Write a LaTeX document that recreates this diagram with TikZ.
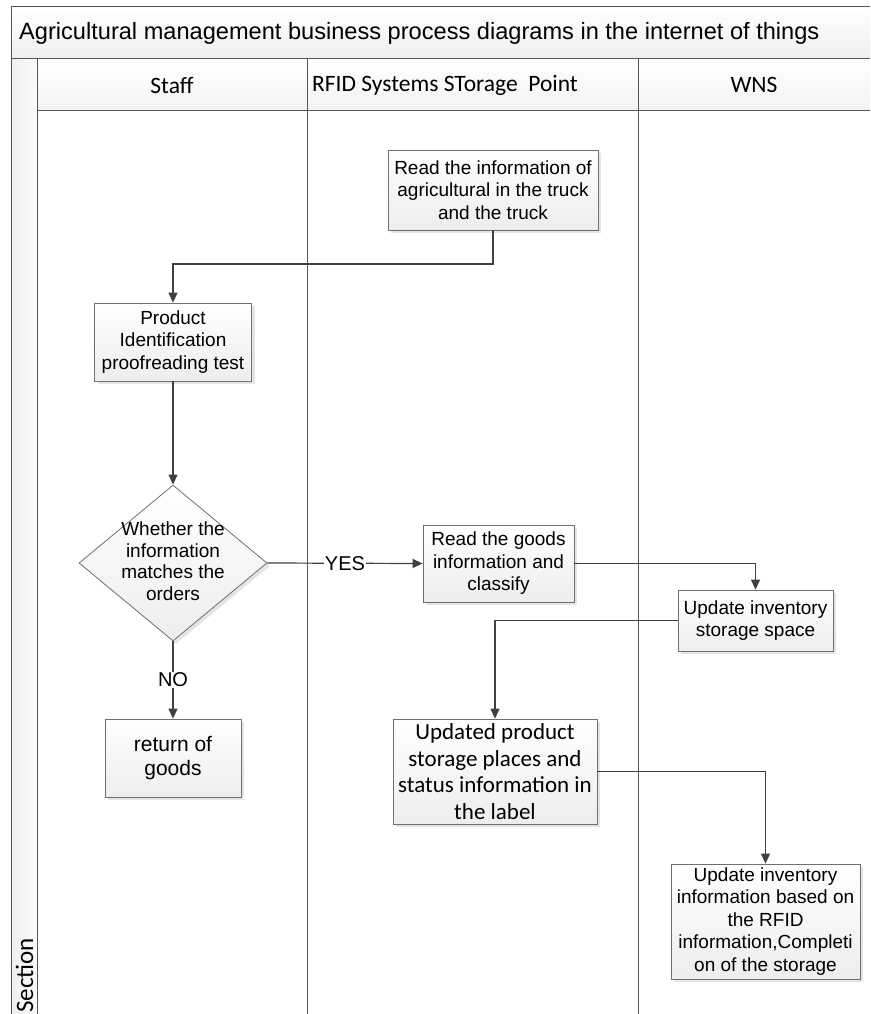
\documentclass[tikz,border=0pt]{standalone}
\usepackage{fontspec}
\setmainfont{Liberation Sans}
\newfontfamily\carlito{Carlito}
\usetikzlibrary{arrows.meta,shapes.geometric,shadows}
\definecolor{edge}{HTML}{404040}
\definecolor{boxline}{HTML}{707070}
\definecolor{laneline}{HTML}{555555}
\begin{document}
\begin{tikzpicture}[x=1pt,y=-1pt,
  proc/.style={draw=boxline, line width=0.8pt, top color=white, bottom color=gray!14,
    drop shadow={shadow xshift=3pt, shadow yshift=-3pt, fill=gray!30, opacity=0.7},
    align=center, font=\fontsize{19}{22.5}\selectfont, inner sep=0pt},
  dec/.style={shape=diamond, draw=boxline, line width=0.8pt, top color=white, bottom color=gray!14,
    drop shadow={shadow xshift=3pt, shadow yshift=-3pt, fill=gray!30, opacity=0.7},
    inner sep=0pt, minimum width=188pt, minimum height=156pt},
  conn/.style={draw=edge, line width=1.2pt, -{Triangle[length=10pt,width=9pt]}},
  lane/.style={draw=laneline, line width=1pt},
  lbl/.style={fill=white, inner sep=1pt, font=\fontsize{20}{22}\selectfont},
  hdr/.style={font=\carlito\fontsize{23.5}{26}\selectfont}]
\useasboundingbox (0,0) rectangle (870,1014);
% bands
\shade[top color=white, bottom color=gray!13] (11,7) rectangle (870,59);
\shade[top color=white, bottom color=gray!10] (37,59) rectangle (870,111);
\shade[left color=gray!12, right color=gray!4] (11,59) rectangle (37,1014);
% lane lines
\draw[lane] (870,7) -- (11,7) -- (11,1014);
\draw[lane] (11,59) -- (870,59);
\draw[lane] (37,59) -- (37,1014);
\draw[lane] (37,111) -- (870,111);
\draw[lane] (307,59) -- (307,1014);
\draw[lane] (638,59) -- (638,1014);
% titles
\node[anchor=base west, inner sep=0pt, font=\fontsize{23.6}{26}\selectfont] (title) at (19,40)
  {Agricultural management business process diagrams in the internet of things};
\node[hdr] (hstaff) at (172,85) {Staff};
\node[hdr] (hrfid) at (445,85) {RFID Systems STorage\ \ Point};
\node[hdr] (hwns) at (754,85) {WNS};
\node[rotate=90, anchor=west, inner sep=0pt, font=\carlito\fontsize{25}{28}\selectfont] (sec) at (24.5,1013) {Section};
% process nodes
\node[proc, minimum width=210pt, minimum height=80pt] (info) at (493,190)
  {Read the information of\\agricultural in the truck\\and the truck};
\node[proc, minimum width=157pt, minimum height=78pt] (prod) at (173,342)
  {Product\\Identification\\proofreading test};
\node[dec] (cond) at (173,563) {};
\node[align=center, font=\fontsize{19}{21.5}\selectfont] (condt) at (173,561)
  {Whether the\\information\\matches the\\orders};
\node[proc, minimum width=151pt, minimum height=77pt] (goods) at (498.5,563.5)
  {Read the goods\\information and\\classify};
\node[proc, minimum width=155pt, minimum height=61pt] (upd) at (755.5,620.5)
  {Update inventory\\storage space};
\node[proc, minimum width=204pt, minimum height=105pt, font=\carlito\fontsize{23}{26.5}\selectfont] (lab) at (495,771.5)
  {Updated product\\storage places and\\status information in\\the label};
\node[proc, minimum width=136pt, minimum height=78pt, font=\fontsize{21}{24}\selectfont] (ret) at (173,758)
  {return of\\goods};
\node[proc, minimum width=189pt, minimum height=115pt] (fin) at (765.5,921.5)
  {Update inventory\\information based on\\the RFID\\information,Completi\\on of the storage};
% connectors
\draw[conn] (info.south) -- (info.south |- 0,264) -| (prod.north);
\draw[conn] (prod.south) -- (cond.north);
\draw[conn] (cond.east) -- node[lbl, pos=0.5] (yes) {YES} (goods.west);
\draw[conn] (cond.south) -- node[lbl, pos=0.5] (no) {NO} (ret.north);
\draw[conn] (goods.east) -| (upd.north);
\draw[conn] (upd.west) -| (lab.north);
\draw[conn] (lab.east) -| (fin.north);
\end{tikzpicture}
\end{document}
